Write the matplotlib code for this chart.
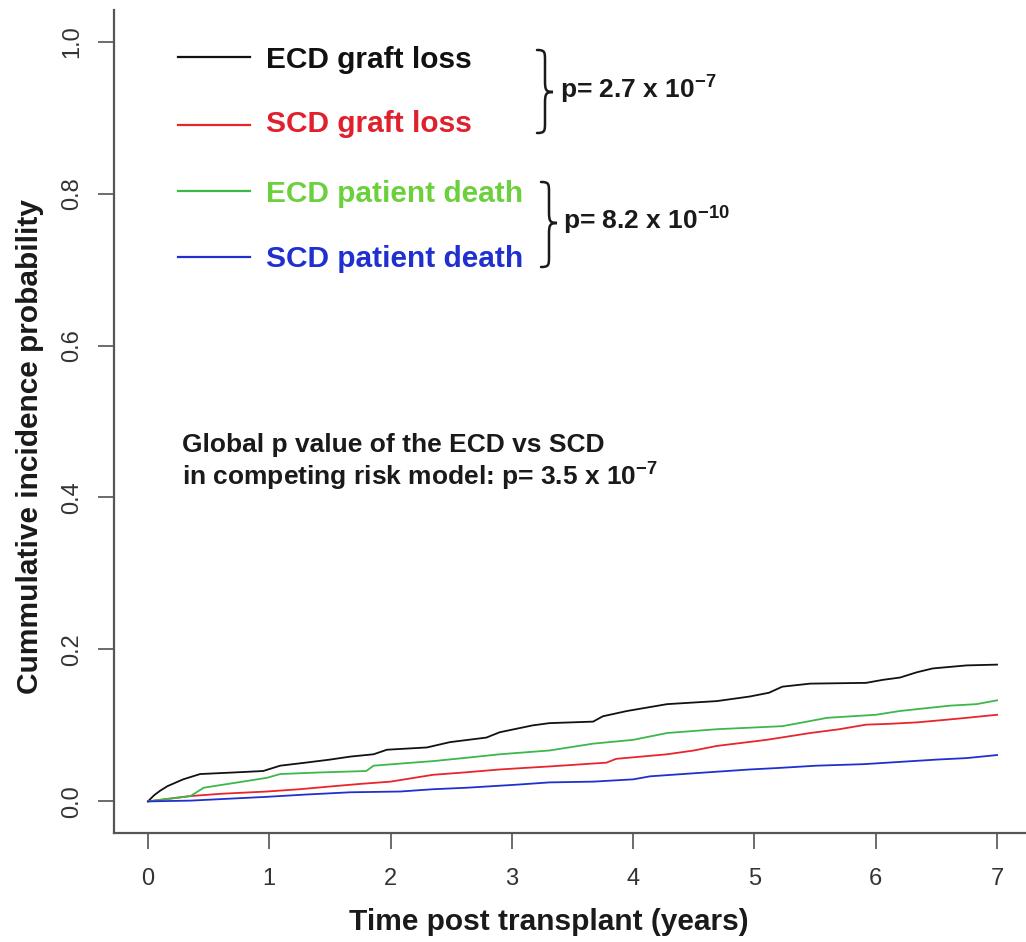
import matplotlib
matplotlib.use("Agg")
import matplotlib.pyplot as plt
from matplotlib.lines import Line2D
from matplotlib.path import Path
from matplotlib.patches import PathPatch
from matplotlib.transforms import Affine2D

plt.rcParams["font.family"] = ["Liberation Sans", "DejaVu Sans"]
plt.rcParams["mathtext.default"] = "regular"

# cumulative incidence curves
ecd_graft_t = [0, 0.05, 0.1, 0.16, 0.29, 0.43, 0.7, 0.95, 1.09, 1.3, 1.5, 1.67, 1.86, 1.97,
               2.3, 2.49, 2.79, 2.9, 3.17, 3.31, 3.67, 3.75, 3.95, 4.28, 4.69, 4.96, 5.12,
               5.23, 5.46, 5.92, 6.06, 6.2, 6.34, 6.47, 6.75, 7.0]
ecd_graft_v = [0, 0.008, 0.014, 0.020, 0.029, 0.036, 0.038, 0.040, 0.047, 0.051, 0.055, 0.059,
               0.062, 0.068, 0.071, 0.078, 0.084, 0.091, 0.100, 0.103, 0.105, 0.112, 0.119,
               0.128, 0.132, 0.138, 0.143, 0.151, 0.155, 0.156, 0.160, 0.163, 0.170, 0.175,
               0.179, 0.180]

scd_graft_t = [0, 0.35, 0.6, 0.98, 1.25, 1.53, 1.75, 2.0, 2.35, 2.6, 2.9, 3.1, 3.31, 3.78,
               3.86, 4.28, 4.5, 4.69, 5.1, 5.3, 5.46, 5.7, 5.92, 6.1, 6.34, 6.55, 6.75, 7.0]
scd_graft_v = [0, 0.007, 0.010, 0.013, 0.016, 0.020, 0.023, 0.026, 0.035, 0.038, 0.042, 0.044,
               0.046, 0.051, 0.056, 0.062, 0.067, 0.073, 0.081, 0.086, 0.090, 0.095, 0.101,
               0.102, 0.104, 0.107, 0.110, 0.114]

ecd_death_t = [0, 0.2, 0.35, 0.46, 0.7, 0.98, 1.09, 1.4, 1.8, 1.86, 2.1, 2.35, 2.6, 2.9,
               3.31, 3.67, 4.0, 4.28, 4.69, 5.23, 5.4, 5.6, 6.0, 6.2, 6.61, 6.83, 7.0]
ecd_death_v = [0, 0.004, 0.007, 0.018, 0.024, 0.031, 0.036, 0.038, 0.040, 0.047, 0.050, 0.053,
               0.057, 0.062, 0.067, 0.076, 0.081, 0.090, 0.095, 0.099, 0.104, 0.110, 0.114,
               0.119, 0.126, 0.128, 0.133]

scd_death_t = [0, 0.35, 0.6, 0.98, 1.3, 1.67, 2.08, 2.35, 2.63, 3.04, 3.31, 3.67, 4.0, 4.14,
               4.5, 4.96, 5.2, 5.51, 5.9, 6.2, 6.5, 6.75, 7.0]
scd_death_v = [0, 0.001, 0.003, 0.006, 0.009, 0.012, 0.013, 0.016, 0.018, 0.022, 0.025, 0.026,
               0.029, 0.033, 0.037, 0.042, 0.044, 0.047, 0.049, 0.052, 0.055, 0.057, 0.061]

labels = ["ECD graft loss", "SCD graft loss", "ECD patient death", "SCD patient death"]
line_colors = ["#111111", "#e8252b", "#3cb84a", "#2030d0"]
text_colors = ["#111111", "#e0202c", "#6cd03c", "#1f2fd0"]
x_ticks = [0, 1, 2, 3, 4, 5, 6, 7]
y_ticks = [0.0, 0.2, 0.4, 0.6, 0.8, 1.0]

W, H = 1026, 942
fig = plt.figure(figsize=(W / 100, H / 100), dpi=100)
# image pixel coords (origin top-left) -> figure
img = Affine2D().scale(1 / W, -1 / H).translate(0, 1) + fig.transFigure

left, right, top, bottom = 114, 1031, 10, 833
ax = fig.add_axes([left / W, (H - bottom) / H, (right - left) / W, (bottom - top) / H])

series = [(ecd_graft_t, ecd_graft_v), (scd_graft_t, scd_graft_v),
          (ecd_death_t, ecd_death_v), (scd_death_t, scd_death_v)]
for (t, v), c in zip(series, line_colors):
    ax.plot(t, v, color=c, lw=1.3)

ax.set_xlim(-0.28, 7.28)
ax.set_ylim(-0.0416, 1.0416)
ax.set_xticks(x_ticks)
ax.set_xticklabels([str(x) for x in x_ticks])
ax.set_yticks(y_ticks)
ax.set_yticklabels([f"{y:.1f}" for y in y_ticks], rotation=90, va="center")
for s in ["top", "right"]:
    ax.spines[s].set_visible(False)
for s in ["left", "bottom"]:
    ax.spines[s].set_color("#555555")
    ax.spines[s].set_linewidth(1.6)
ax.tick_params(axis="both", direction="out", length=11.5, width=1.1, color="#444444",
               labelsize=17, labelcolor="#333333")
ax.tick_params(axis="x", pad=14)
ax.tick_params(axis="y", pad=11)

fig.text(549, 930, "Time post transplant (years)", transform=img, ha="center", va="baseline",
         fontsize=21.5, fontweight="bold", color="#1a1a1a")
fig.text(30, 446, "Cummulative incidence probability", transform=img, ha="center", va="center",
         rotation=90, fontsize=21.5, fontweight="bold", color="#1a1a1a")

# legend drawn by hand
line_y = [57, 125, 191, 257]
base_y = [68, 132, 202, 267]
for lab, lc, tc, ly, by in zip(labels, line_colors, text_colors, line_y, base_y):
    fig.add_artist(Line2D([178, 250], [ly, ly], transform=img, color=lc, lw=1.6))
    fig.text(266, by, lab, transform=img, ha="left", va="baseline", fontsize=21.5,
             fontweight="bold", color=tc)


def brace(x0, x1, yt, yb, ym):
    xm = (x0 + x1) / 2
    q = 11
    verts = [(x0, yt), (xm, yt), (xm, yt + 2), (xm, yt + q),
             (xm, ym - q),
             (xm, ym - 2), (xm + 1, ym), (x1, ym),
             (xm + 1, ym), (xm, ym + 2), (xm, ym + q),
             (xm, yb - q),
             (xm, yb - 2), (xm, yb), (x0, yb)]
    codes = [Path.MOVETO, Path.CURVE4, Path.CURVE4, Path.CURVE4,
             Path.LINETO,
             Path.CURVE4, Path.CURVE4, Path.CURVE4,
             Path.CURVE4, Path.CURVE4, Path.CURVE4,
             Path.LINETO,
             Path.CURVE4, Path.CURVE4, Path.CURVE4]
    fig.add_artist(PathPatch(Path(verts, codes), transform=img, fill=False,
                             lw=1.8, edgecolor="#1a1a1a", capstyle="round"))


brace(537, 553, 50, 133, 92)
brace(541, 557, 182, 267, 223)
fig.text(560, 99, "p= 2.7 x 10$^{-7}$", transform=img, ha="left", va="baseline",
         fontsize=19, fontweight="bold", color="#1a1a1a")
fig.text(563, 230, "p= 8.2 x 10$^{-10}$", transform=img, ha="left", va="baseline",
         fontsize=19, fontweight="bold", color="#1a1a1a")

fig.text(182, 452, "Global p value of the ECD vs SCD", transform=img, ha="left",
         va="baseline", fontsize=19, fontweight="bold", color="#1a1a1a")
fig.text(182, 486, "in competing risk model: p= 3.5 x 10$^{-7}$", transform=img, ha="left",
         va="baseline", fontsize=19, fontweight="bold", color="#1a1a1a")

fig.savefig("out.png", dpi=100)
